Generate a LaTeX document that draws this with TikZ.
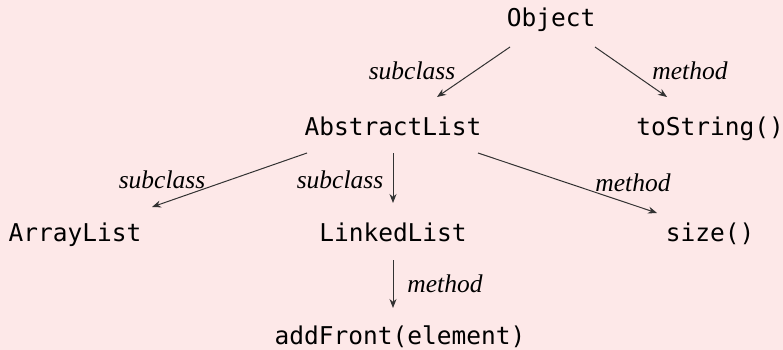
\documentclass[tikz,border=0pt]{standalone}
\usepackage{fontspec}
\setmainfont{Liberation Serif}
\setmonofont{DejaVu Sans Mono}
\usetikzlibrary{arrows.meta}
\definecolor{bgpink}{RGB}{253,232,232}
\definecolor{linegray}{RGB}{50,50,50}
\tikzset{
  cls/.style={inner sep=0pt, anchor=base, font=\ttfamily\fontsize{24.5}{28}\selectfont},
  lbl/.style={inner sep=0pt, anchor=base, font=\itshape\fontsize{25.5}{29}\selectfont},
  arr/.style={draw=linegray, line width=1pt, -{Stealth[length=9pt,width=7pt]}}
}
\begin{document}
\begin{tikzpicture}[x=1pt,y=1pt]
\fill[bgpink] (0,0) rectangle (783,-350);
\useasboundingbox (0,0) rectangle (783,-350);
\node[cls] (obj) at (551,-27) {Object};
\node[cls] (al) at (393,-135) {AbstractList};
\node[cls] (ts) at (710,-135) {toString()};
\node[cls] (arl) at (75,-241) {ArrayList};
\node[cls] (ll) at (393,-241) {LinkedList};
\node[cls] (sz) at (710,-241) {size()};
\node[cls] (af) at (400,-344) {addFront(element)};
\node[lbl] (l1) at (412,-80) {subclass};
\node[lbl] (l2) at (690,-80) {method};
\node[lbl] (l3) at (162,-188) {subclass};
\node[lbl] (l4) at (340,-188) {subclass};
\node[lbl] (l5) at (633,-191) {method};
\node[lbl] (l6) at (445,-292) {method};
\draw[arr] ([shift={(-41,-20)}]obj.base) -- ([shift={(44,38)}]al.base);
\draw[arr] ([shift={(44,-20)}]obj.base) -- ([shift={(-43,38)}]ts.base);
\draw[arr] ([shift={(-86,-18)}]al.base) -- ([shift={(77,34)}]arl.base);
\draw[arr] ([shift={(0,-18)}]al.base) -- ([shift={(0,38)}]ll.base);
\draw[arr] ([shift={(85,-18)}]al.base) -- ([shift={(-53,28)}]sz.base);
\draw[arr] ([shift={(0,-19)}]ll.base) -- ([shift={(-7,36)}]af.base);
\end{tikzpicture}
\end{document}
